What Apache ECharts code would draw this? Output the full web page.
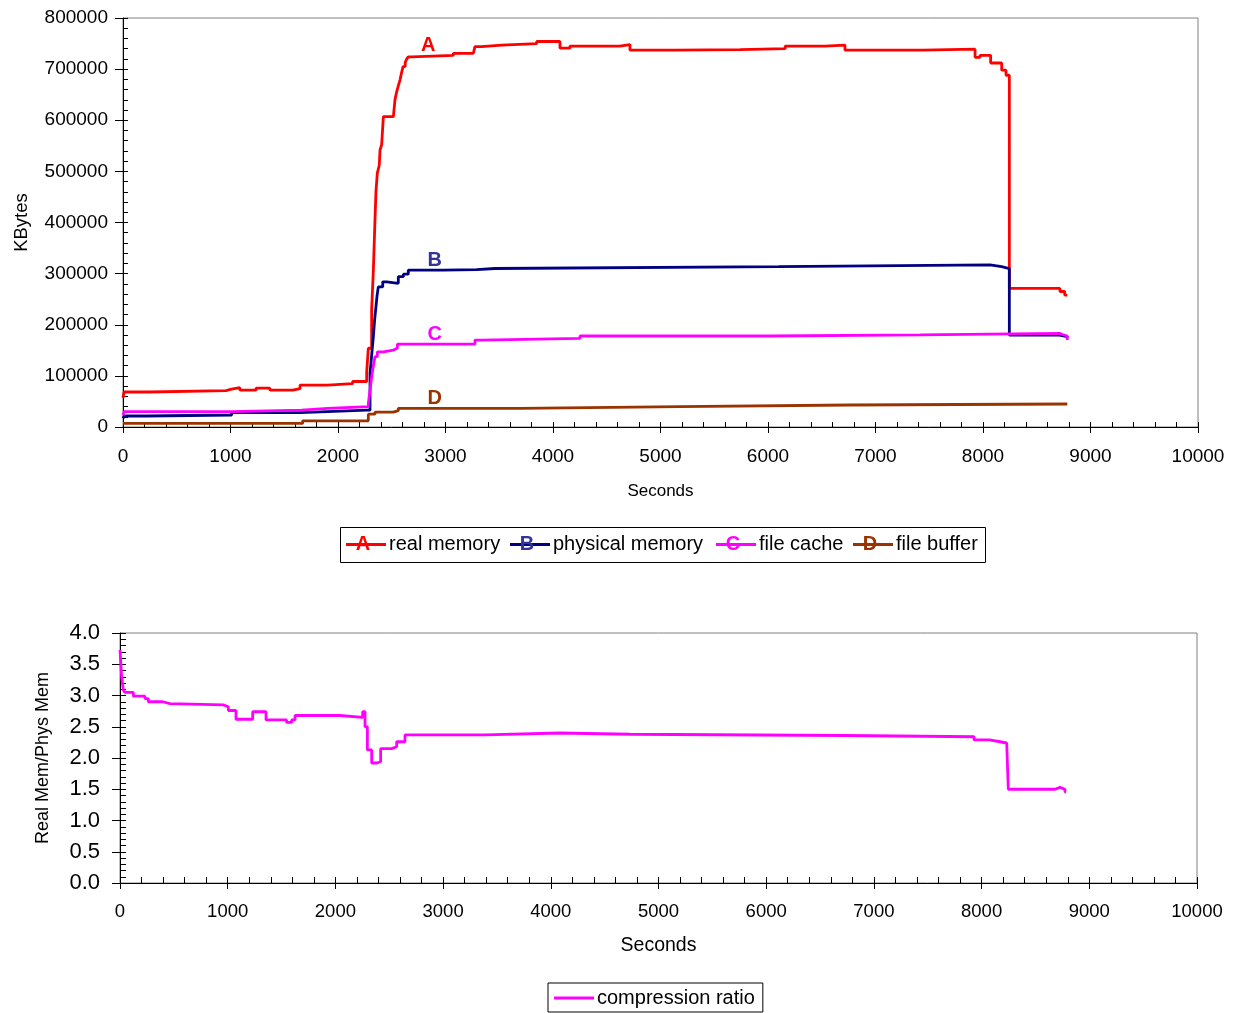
<!DOCTYPE html>
<html><head><meta charset="utf-8">
<script src="https://cdn.jsdelivr.net/npm/echarts@6/dist/echarts.min.js"></script>
<style>html,body{margin:0;padding:0;background:#fff}#c{width:1234px;height:1013px}</style>
</head><body><div id="c"></div>
<script>
// ---- data (seconds, value); each point = value from that second on ----
const seriesNames = ['real memory', 'physical memory', 'file cache', 'file buffer'];
const seriesLetters = ['A', 'B', 'C', 'D'];
const realMemory = [[0,56700],[10,68500],[242,71000],[958,74000],[1010,77000],[1088,72000],[1237,76000],[1367,72000],[1578,75000],[1647,82000],[1904,85000],[2136,89000],[2267,108000],[2282,154000],[2313,229000],[2329,307000],[2344,405000],[2353,460000],[2366,497000],[2384,512000],[2391,542000],[2406,552000],[2422,607000],[2515,610000],[2530,640000],[2545,655000],[2562,668000],[2577,679000],[2590,692000],[2605,705000],[2625,713000],[2640,720000],[2654,724000],[2685,727000],[3073,731000],[3259,734000],[3274,744000],[3337,747000],[3523,750000],[3848,754000],[4065,741000],[4158,745000],[4620,748000],[4716,737000],[5135,738000],[5740,740000],[6160,745000],[6530,747000],[6716,737000],[7440,739000],[7926,723000],[7972,727000],[8071,712000],[8174,698000],[8214,688000],[8245,271000],[8716,265000],[8760,258000],[8784,258000]];
const physMemory = [[0,17000],[10,21500],[220,23500],[1011,28000],[1647,30000],[1904,33000],[2267,33000],[2298,106000],[2313,140000],[2329,177000],[2341,210000],[2353,235000],[2364,258000],[2375,274000],[2416,284000],[2453,281000],[2561,294000],[2608,299000],[2654,307000],[2980,308000],[3290,310000],[3460,313500],[6100,317000],[8065,313500],[8174,310000],[8245,180000],[8700,177000],[8784,175000]];
const fileCache = [[0,23500],[10,30000],[1011,33000],[1662,36500],[1904,40000],[2282,46000],[2298,72000],[2313,98000],[2329,120000],[2344,137500],[2366,147000],[2422,150600],[2515,154000],[2552,162000],[3274,170000],[3337,173500],[4251,178000],[6020,180000],[7414,183000],[8713,181000],[8740,178000],[8784,170000]];
const fileBuffer = [[0,7000],[1671,12000],[2282,25000],[2344,29000],[2515,32000],[2561,36500],[3693,40000],[5181,43000],[6763,45000],[8784,45000]];
const labelPoints = [[2840,727000],[2900,307000],[2900,162000],[2900,36500]];
const ratioName = 'compression ratio';
const compressionRatio = [[0,3.73],[15,3.3],[31,3.09],[46,3.05],[124,2.99],[232,2.95],[263,2.9],[396,2.87],[464,2.85],[959,2.82],[1006,2.76],[1077,2.62],[1232,2.74],[1356,2.61],[1547,2.57],[1594,2.61],[1625,2.68],[2043,2.65],[2253,2.74],[2275,2.5],[2297,2.13],[2337,1.92],[2383,1.94],[2420,2.15],[2522,2.18],[2569,2.26],[2646,2.37],[3389,2.4],[4085,2.38],[4735,2.36],[6732,2.34],[7930,2.29],[8072,2.26],[8171,2.24],[8233,2.21],[8248,1.5],[8682,1.53],[8728,1.5],[8774,1.46],[8784,1.46]];
const topData = [realMemory, physMemory, fileCache, fileBuffer];

// ---- styles ----
const FONT = "'Liberation Sans', Arial, sans-serif";
const lineColors = ['#FF0000', '#000080', '#FF00FF', '#993300'];
const letterColors = ['#FF0000', '#333399', '#FF00FF', '#993300'];

const chart = echarts.init(document.getElementById('c'), null, {renderer: 'canvas'});

function mainX(grid, fs, nameFs, gap, margin) {
  return {gridIndex: grid, type: 'value', min: 0, max: 10000, interval: 1000,
    axisLine: {lineStyle: {color: '#000', width: 1}},
    axisTick: {length: 6, lineStyle: {color: '#000'}},
    axisLabel: {fontSize: fs, color: '#000', fontFamily: FONT, margin: margin, formatter: v => String(v)},
    splitLine: {show: false},
    name: 'Seconds', nameLocation: 'middle', nameGap: gap,
    nameTextStyle: {fontSize: nameFs, color: '#000', fontFamily: FONT}};
}
function minorAxis(grid, min, max, interval, len) {
  return {gridIndex: grid, type: 'value', min: min, max: max, interval: interval,
    axisLine: {show: false}, axisLabel: {show: false}, splitLine: {show: false},
    axisTick: {inside: true, length: len, lineStyle: {color: '#000'}}};
}

const series = topData.map((d, i) => ({
  name: seriesNames[i], type: 'line', xAxisIndex: 0, yAxisIndex: 0,
  step: 'end', showSymbol: false, data: d,
  lineStyle: {color: lineColors[i], width: 2.8}, itemStyle: {color: lineColors[i]},
  markPoint: {symbol: 'circle', symbolSize: 0, animation: false,
    label: {show: true, position: 'top', distance: 0, formatter: seriesLetters[i],
      fontSize: 20, fontWeight: 'bold', color: letterColors[i], fontFamily: FONT},
    data: [{coord: labelPoints[i]}]}
}));
series.push({
  name: ratioName, type: 'line', xAxisIndex: 2, yAxisIndex: 2,
  step: 'end', showSymbol: false, data: compressionRatio,
  lineStyle: {color: '#FF00FF', width: 2.8}, itemStyle: {color: '#FF00FF'}
});

// top legend (letters drawn over the line samples)
const legX = [346, 510, 716, 853];
const legTextX = [389, 553, 759, 896];
const legendEls = [{type: 'rect', shape: {x: 340.5, y: 527.5, width: 645, height: 35},
  style: {fill: '#fff', stroke: '#000', lineWidth: 1}}];
seriesNames.forEach((n, i) => {
  legendEls.push({type: 'line', shape: {x1: legX[i], y1: 544.5, x2: legX[i] + 40, y2: 544.5},
    style: {stroke: lineColors[i], lineWidth: 2.8}});
  legendEls.push({type: 'text', x: legX[i] + 17, y: 544.5,
    style: {text: seriesLetters[i], fill: letterColors[i], font: 'bold 20px ' + FONT,
      textAlign: 'center', textVerticalAlign: 'middle'}});
  legendEls.push({type: 'text', x: legTextX[i], y: 544.5,
    style: {text: n, fill: '#000', font: '20px ' + FONT, textAlign: 'left', textVerticalAlign: 'middle'}});
});

chart.setOption({
  animation: false,
  backgroundColor: '#fff',
  textStyle: {fontFamily: FONT},
  grid: [
    {left: 123, right: 36, top: 18, height: 409, show: true, borderColor: '#808080', borderWidth: 1},
    {left: 123, right: 36, top: 18, height: 409, show: false},
    {left: 120, right: 37, top: 633, height: 250, show: true, borderColor: '#808080', borderWidth: 1},
    {left: 120, right: 37, top: 633, height: 250, show: false}
  ],
  xAxis: [
    mainX(0, 19, 17, 56, 20),
    minorAxis(1, 0, 10000, 200, 5),
    mainX(2, 18.5, 19.5, 53, 19),
    minorAxis(3, 0, 10000, 200, 6)
  ],
  yAxis: [
    {gridIndex: 0, type: 'value', min: 0, max: 800000, interval: 100000,
      axisLine: {show: true, lineStyle: {color: '#000'}},
      axisTick: {show: true, length: 8, lineStyle: {color: '#000'}},
      axisLabel: {fontSize: 19, color: '#000', fontFamily: FONT, margin: 15, formatter: v => String(v)},
      splitLine: {show: false},
      name: 'KBytes', nameLocation: 'middle', nameGap: 92,
      nameTextStyle: {fontSize: 18.5, color: '#000', fontFamily: FONT}},
    minorAxis(1, 0, 800000, 20000, 5),
    {gridIndex: 2, type: 'value', min: 0, max: 4, interval: 0.5,
      axisLine: {show: true, lineStyle: {color: '#000'}},
      axisTick: {show: true, length: 8, lineStyle: {color: '#000'}},
      axisLabel: {fontSize: 22, color: '#000', fontFamily: FONT, margin: 20, formatter: v => v.toFixed(1)},
      splitLine: {show: false},
      name: 'Real Mem/Phys Mem', nameLocation: 'middle', nameGap: 68,
      nameTextStyle: {fontSize: 18, color: '#000', fontFamily: FONT}},
    minorAxis(3, 0, 4, 0.1, 6)
  ],
  legend: {data: [ratioName], left: 548, top: 983, orient: 'horizontal',
    borderColor: '#000', borderWidth: 1, padding: [5, 8, 4, 6],
    icon: 'path://M0,0 H40 V3 H0 Z', itemWidth: 40, itemHeight: 3, itemGap: 4,
    textStyle: {fontSize: 20, color: '#000', fontFamily: FONT, padding: [0, 0, 0, -2]}},
  graphic: legendEls,
  series: series
});
</script></body></html>
